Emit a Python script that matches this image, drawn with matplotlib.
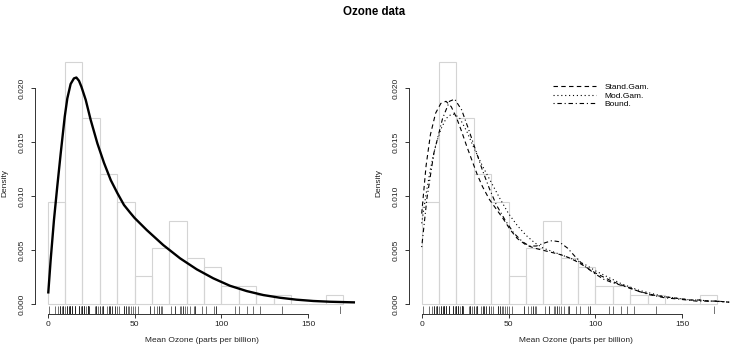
import matplotlib
matplotlib.use("Agg")
import matplotlib.pyplot as plt
import numpy as np

plt.rcParams['font.family'] = ['Liberation Sans', 'DejaVu Sans']

# ---------------- data ----------------
ozone = [41, 36, 12, 18, 28, 23, 19, 8, 7, 16, 11, 14, 18, 14, 34, 6, 30, 11, 1, 11, 4,
         32, 23, 45, 115, 37, 29, 71, 39, 23, 21, 37, 20, 12, 13, 135, 49, 32, 64, 40,
         77, 97, 97, 85, 10, 27, 7, 48, 35, 61, 79, 63, 16, 80, 108, 20, 52, 82, 50, 64,
         59, 39, 9, 16, 78, 35, 66, 122, 89, 110, 44, 28, 65, 22, 59, 23, 31, 44, 21, 9,
         45, 168, 73, 76, 118, 84, 85, 96, 78, 73, 91, 47, 32, 20, 23, 21, 24, 44, 21, 28,
         9, 13, 46, 18, 13, 24, 16, 13, 23, 36, 7, 14, 30, 14, 18, 20]

bin_edges = [0, 10, 20, 30, 40, 50, 60, 70, 80, 90, 100, 110, 120, 130, 140, 150, 160, 170]
bin_counts = [11, 26, 20, 14, 11, 3, 6, 9, 5, 4, 2, 2, 1, 1, 0, 0, 1]

# left panel fitted density
fit_x = [0.3, 1.7, 3.6, 5.5, 7.5, 9.8, 11.3, 13.2, 15.1, 16.5, 18.0, 19.4, 21.9, 24.7,
         28.6, 32.4, 36.3, 40.1, 43.9, 47.4, 50.0, 57.0, 66.5, 76.2, 85.8, 95.3, 104.9,
         114.5, 124.1, 133.7, 143.3, 152.9, 162.5, 176.9]
fit_y = [0.0010, 0.0041, 0.0078, 0.0109, 0.0140, 0.01737, 0.01907, 0.0204, 0.02092,
         0.0210, 0.0207, 0.02015, 0.01892, 0.0171, 0.0149, 0.0131, 0.0115, 0.0103, 0.0092,
         0.0085, 0.0080, 0.00688, 0.00549, 0.00426, 0.00324, 0.00241, 0.00172, 0.00123,
         0.00086, 0.00061, 0.00043, 0.00031, 0.00024, 0.00018]

# right panel kernel estimates
std_x = [0, 2.5, 5, 8, 11, 14, 17, 20, 23, 26, 29, 32, 35, 39, 43, 47, 51, 55, 60, 65,
         70, 75, 80, 85, 90, 95, 100, 105, 110, 115, 120, 125, 130, 135, 140, 145, 150,
         155, 160, 165, 170, 177]
std_y = [0.0084, 0.0128, 0.0157, 0.0177, 0.0186, 0.0188, 0.0183, 0.0173, 0.0160, 0.0146,
         0.0133, 0.0120, 0.0109, 0.0097, 0.0088, 0.0079, 0.0069, 0.0061, 0.0055, 0.0052,
         0.0050, 0.0048, 0.0046, 0.0043, 0.0039, 0.0034, 0.0029, 0.0025, 0.0021, 0.0018,
         0.0015, 0.0012, 0.0010, 0.0008, 0.0007, 0.0006, 0.0005, 0.0004, 0.0004, 0.0003,
         0.0003, 0.0002]

mod_x = [0, 2.5, 5, 8, 11, 14, 17, 19, 22, 26, 30, 35, 40, 45, 50, 55, 60, 65, 70, 75,
         80, 85, 90, 95, 100, 105, 110, 115, 120, 125, 130, 135, 140, 145, 150, 155, 160,
         165, 170, 177]
mod_y = [0.0075, 0.0102, 0.0125, 0.0147, 0.0162, 0.0172, 0.0176, 0.0176, 0.0172, 0.0160,
         0.0145, 0.0128, 0.0113, 0.0098, 0.0084, 0.0073, 0.0064, 0.0057, 0.0052, 0.0049,
         0.0046, 0.0043, 0.0040, 0.0036, 0.0031, 0.0027, 0.0023, 0.0019, 0.0016, 0.0013,
         0.0011, 0.0009, 0.0007, 0.0006, 0.0005, 0.0004, 0.0004, 0.0003, 0.0003, 0.0002]

bnd_x = [0, 3, 7, 12, 16, 19, 23, 27, 31, 35, 39, 43, 48, 53, 58, 62, 66, 71, 75, 79,
         84, 89, 94, 100, 105, 110, 118, 125, 131, 140, 147, 158, 168, 177]
bnd_y = [0.0053, 0.0098, 0.0140, 0.0172, 0.0188, 0.0190, 0.0180, 0.0162, 0.0143, 0.0124,
         0.0107, 0.0092, 0.0078, 0.0066, 0.0058, 0.0054, 0.0054, 0.0057, 0.0059, 0.0058,
         0.0052, 0.0043, 0.0035, 0.0028, 0.0023, 0.0020, 0.0016, 0.0012, 0.0009, 0.0006,
         0.0005, 0.0003, 0.0003, 0.0002]

legend_labels = ["Stand.Gam.", "Mod.Gam.", "Bound."]
x_ticks = [0, 50, 100, 150]
y_ticks = [0.000, 0.005, 0.010, 0.015, 0.020]
y_ticklabels = ["0.000", "0.005", "0.010", "0.015", "0.020"]

# ---------------- figure ----------------
W, H = 747, 359
fig = plt.figure(figsize=(W / 100, H / 100), dpi=100)

n = len(ozone)
widths = np.diff(bin_edges)
dens = np.array(bin_counts) / (n * widths)

fs = 6.0
hist_col = '#d4d4d4'


def rug(ax):
    ax.vlines(ozone, 0, 0.03, transform=ax.get_xaxis_transform(), color='#222222',
              linewidth=0.45)


def base(ax):
    ax.bar(bin_edges[:-1], dens, width=widths, align='edge', fill=False,
           edgecolor=hist_col, linewidth=0.8)
    ax.set_xlim(-7.08, 184.2)
    ax.set_ylim(-0.000895, 0.02328)
    for s in ['top', 'right']:
        ax.spines[s].set_visible(False)
    ax.spines['left'].set_bounds(0, 0.020)
    ax.spines['bottom'].set_bounds(0, 150)
    for s in ['left', 'bottom']:
        ax.spines[s].set_linewidth(0.7)
        ax.spines[s].set_color('#333333')
    ax.set_xticks(x_ticks)
    ax.set_xticklabels([str(t) for t in x_ticks])
    ax.set_yticks(y_ticks)
    ax.set_yticklabels(y_ticklabels, rotation=90, va='center')
    ax.tick_params(axis='both', length=3.0, width=0.7, labelsize=fs, color='#333333',
                   labelcolor='#222222')
    ax.tick_params(axis='x', pad=2.0)
    ax.tick_params(axis='y', pad=4.2)
    rug(ax)
    ax.set_xlabel("Mean Ozone (parts per billion)", fontsize=fs, color='#222222')
    ax.xaxis.set_label_coords(0.5, -0.0996)
    ax.xaxis.label.set_va('center')
    ax.set_ylabel("Density", fontsize=fs, color='#222222')
    ax.yaxis.set_label_coords(-0.0915, 0.5)
    ax.yaxis.label.set_va('center')


axw = 332.3 / W
axh = 261.1 / H
bot = (H - 314.0) / H
ax1 = fig.add_axes([35.4 / W, bot, axw, axh])
ax2 = fig.add_axes([409.4 / W, bot, axw, axh])

base(ax1)
ax1.plot(fit_x, fit_y, color='black', linewidth=1.7, solid_capstyle='butt')

base(ax2)
l1, = ax2.plot(std_x, std_y, color='black', linewidth=0.8, linestyle=(0, (4, 3)))
l2, = ax2.plot(mod_x, mod_y, color='black', linewidth=0.8, linestyle=(0, (1, 2.5)))
l3, = ax2.plot(bnd_x, bnd_y, color='black', linewidth=0.8, linestyle=(0, (1, 2.5, 4, 2.5)))

leg = ax2.legend([l1, l2, l3], legend_labels, loc='upper left',
                 bbox_to_anchor=(553 / W, 1 - 83.5 / H), bbox_transform=fig.transFigure,
                 frameon=False, fontsize=fs, handlelength=5.2, handletextpad=1.0,
                 labelspacing=0.08, borderpad=0, borderaxespad=0)

fig.text(374 / W, 1 - 12 / H, "Ozone data", ha='center', va='center',
         fontsize=8.3, fontweight='bold')

fig.savefig("out.png", dpi=100)
